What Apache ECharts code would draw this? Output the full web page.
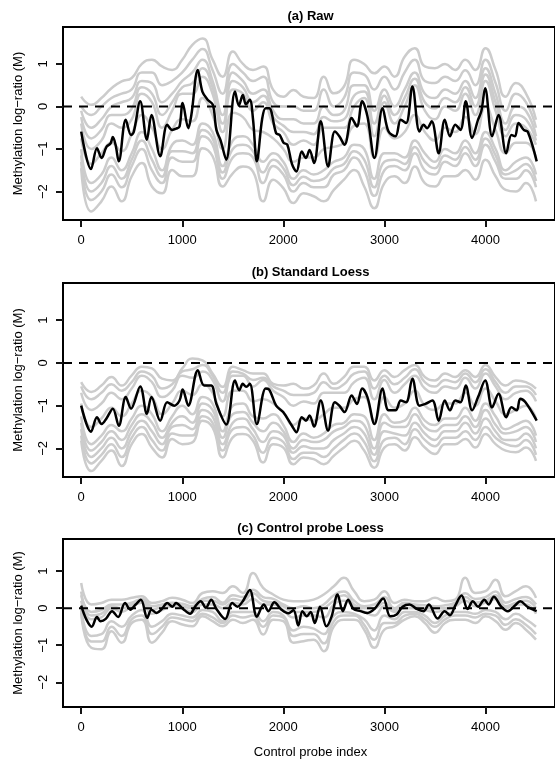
<!DOCTYPE html>
<html>
<head>
<meta charset="utf-8">
<script src="https://cdn.jsdelivr.net/npm/echarts@6/dist/echarts.min.js"></script>
<style>html,body{margin:0;padding:0;background:#fff}#c{width:555px;height:761px}</style>
</head>
<body>
<div id="c"></div>
<script>
// ---------- data ----------
const panelTitles = ['(a) Raw', '(b) Standard Loess', '(c) Control probe Loess'];
const xTicks = [0, 1000, 2000, 3000, 4000];
const yTicks = [-2, -1, 0, 1];
const greyX = [0,100,200,300,400,500,600,700,800,900,1000,1100,1200,1300,1400,1500,1600,1700,1800,1900,2000,2100,2200,2300,2400,2500,2600,2700,2800,2900,3000,3100,3200,3300,3400,3500,3600,3700,3800,3900,4000,4100,4200,4300,4400,4500];

// (a) Raw - grey arrays
const rawGreyUpper = [0.23,0.04,0.2,0.43,0.59,0.67,1.0,1.1,0.94,0.86,1.1,1.45,1.6,1.1,0.7,1.29,1.0,0.86,0.94,0.39,0.23,0.39,0.23,0.2,0.7,0.31,0.47,1.1,1.0,0.78,0.94,0.7,1.17,1.37,0.94,0.9,1.0,0.86,1.1,0.86,1.37,0.86,0.23,0.55,0.31,-0.31];
const rawGrey1 = [0.0,-0.2,0.0,0.2,0.3,0.4,0.8,0.8,0.5,0.6,0.8,1.1,1.35,0.85,0.3,1.0,0.8,0.6,0.7,0.1,0.0,0.0,-0.1,-0.1,0.4,0.0,0.2,0.8,0.75,0.4,0.7,0.4,0.8,1.1,0.6,0.55,0.7,0.6,0.85,0.5,1.1,0.55,-0.1,0.3,0.1,-0.5];
const rawGrey2 = [-0.1,-0.5,-0.3,0.0,0.1,0.2,0.6,0.55,0.1,0.3,0.6,0.8,1.1,0.6,-0.2,0.8,0.6,0.3,0.4,-0.1,-0.3,-0.3,-0.4,-0.4,0.0,-0.2,-0.1,0.5,0.5,-0.1,0.4,0.0,0.4,0.8,0.3,0.2,0.4,0.3,0.6,0.2,0.9,0.3,-0.4,0.0,-0.1,-0.7];
const rawGrey7 = [-0.25,-0.75,-0.55,-0.2,-0.2,-0.05,0.45,0.3,-0.2,0.1,0.45,0.55,0.9,0.45,-0.4,0.6,0.45,0.1,0.25,-0.25,-0.45,-0.6,-0.6,-0.65,-0.25,-0.35,-0.3,0.25,0.35,-0.4,0.25,-0.2,0.2,0.65,0.1,-0.05,0.2,0.1,0.45,0.0,0.75,0.1,-0.55,-0.2,-0.3,-0.8];
const rawGrey3 = [-0.4,-1.0,-0.8,-0.4,-0.5,-0.3,0.3,0.1,-0.5,-0.1,0.3,0.3,0.7,0.3,-0.6,0.4,0.3,-0.1,0.1,-0.4,-0.6,-0.9,-0.8,-0.9,-0.5,-0.5,-0.5,0.0,0.2,-0.7,0.1,-0.4,0.0,0.5,-0.1,-0.3,0.0,-0.1,0.3,-0.2,0.6,-0.1,-0.7,-0.4,-0.5,-0.9];
const rawGrey6 = [-0.75,-1.35,-1.1,-0.85,-1.05,-0.65,-0.2,-0.5,-1.0,-0.55,-0.3,-0.35,0.2,-0.2,-1.0,-0.15,-0.25,-0.55,-0.6,-0.75,-1.0,-1.3,-1.2,-1.2,-1.0,-0.95,-0.85,-0.45,-0.4,-1.2,-0.5,-0.75,-0.6,-0.2,-0.6,-0.8,-0.5,-0.6,-0.25,-0.65,0.0,-0.55,-1.1,-0.85,-0.85,-1.2];
const rawGrey4 = [-1.0,-1.8,-1.6,-1.2,-1.5,-1.1,-0.6,-1.0,-1.5,-0.9,-0.8,-0.9,-0.4,-0.6,-1.4,-0.8,-0.7,-0.9,-1.3,-1.1,-1.3,-1.7,-1.5,-1.6,-1.5,-1.3,-1.2,-0.9,-1.0,-1.7,-1.1,-1.1,-1.2,-0.8,-1.1,-1.3,-1.0,-1.1,-0.8,-1.1,-0.6,-1.0,-1.5,-1.3,-1.2,-1.6];
const rawGrey8 = [-1.15,-2.0,-1.8,-1.4,-1.7,-1.25,-0.8,-1.25,-1.65,-1.05,-1.05,-1.1,-0.55,-0.75,-1.55,-1.0,-0.9,-1.05,-1.55,-1.25,-1.45,-1.85,-1.65,-1.75,-1.7,-1.45,-1.35,-1.05,-1.25,-1.9,-1.3,-1.25,-1.35,-0.95,-1.3,-1.45,-1.15,-1.25,-0.95,-1.25,-0.75,-1.15,-1.6,-1.5,-1.35,-1.75];
const rawGrey5 = [-1.3,-2.2,-2.0,-1.6,-1.9,-1.4,-1.0,-1.5,-1.8,-1.2,-1.3,-1.3,-0.7,-0.9,-1.7,-1.2,-1.1,-1.2,-1.8,-1.4,-1.6,-2.0,-1.8,-1.9,-1.9,-1.6,-1.5,-1.2,-1.5,-2.1,-1.5,-1.4,-1.5,-1.1,-1.5,-1.6,-1.3,-1.4,-1.1,-1.4,-0.9,-1.3,-1.7,-1.7,-1.5,-1.9];
const rawGreyLower = [-1.45,-2.47,-2.23,-1.88,-2.23,-1.64,-1.33,-1.88,-2.04,-1.49,-1.64,-1.64,-0.98,-1.17,-1.88,-1.57,-1.41,-1.53,-2.23,-1.72,-1.92,-2.27,-2.04,-2.11,-2.23,-1.96,-1.72,-1.49,-1.88,-2.39,-1.8,-1.64,-1.8,-1.41,-1.8,-1.88,-1.64,-1.64,-1.49,-1.72,-1.25,-1.64,-1.96,-2.0,-1.8,-2.23];
// (a) Raw - highlighted array
const rawBlackX = [0,97,156,202,250,290,313,340,372,441,493,520,584,650,695,782,851,900,940,973,1004,1060,1090,1154,1199,1251,1303,1338,1380,1435,1522,1560,1599,1630,1668,1700,1738,1790,1825,1860,1929,1964,2002,2040,2085,2130,2182,2224,2259,2304,2370,2443,2509,2554,2606,2676,2728,2780,2832,2902,2982,3041,3110,3162,3215,3277,3347,3388,3423,3468,3537,3597,3649,3701,3753,3805,3868,3927,3960,3997,4066,4129,4205,4257,4292,4327,4379,4420,4507];
const rawBlackY = [-0.59,-1.47,-0.98,-1.21,-0.95,-0.87,-0.72,-0.9,-1.29,-0.31,-0.67,-0.6,0.12,-0.78,-0.2,-1.17,-0.43,-0.55,-0.52,-0.47,0.08,-0.51,-0.2,0.86,0.35,0.16,0.04,-0.55,-0.8,-1.25,0.35,0.02,0.27,0.05,0.16,-0.3,-1.29,-0.3,-0.04,-0.04,-0.63,-0.67,-0.85,-0.9,-1.35,-1.53,-1.06,-1.21,-1.02,-1.33,-0.35,-1.41,-0.59,-0.7,-0.9,-0.27,-0.47,0.12,-0.23,-1.21,-0.04,-0.59,-0.7,-0.31,-0.39,0.47,-0.59,-0.43,-0.51,-0.35,-1.1,-0.31,-0.7,-0.43,-0.55,0.12,-0.74,-0.31,-0.1,0.43,-0.7,-0.2,-1.1,-0.67,-0.7,-0.39,-0.55,-0.6,-1.29];

// (b) Standard Loess - grey arrays
const stdGreyUpper = [-0.45,-0.68,-0.53,-0.33,-0.53,-0.29,-0.09,-0.13,-0.37,-0.41,-0.13,0.1,0.06,-0.25,-0.56,-0.09,-0.17,-0.25,-0.25,-0.49,-0.53,-0.49,-0.6,-0.53,-0.25,-0.49,-0.33,-0.09,-0.09,-0.41,-0.17,-0.33,-0.17,-0.05,-0.33,-0.41,-0.25,-0.33,-0.17,-0.33,-0.05,-0.33,-0.53,-0.41,-0.45,-0.6];
const stdGrey1 = [-0.55,-0.85,-0.7,-0.5,-0.65,-0.45,-0.2,-0.3,-0.6,-0.5,-0.2,-0.15,-0.05,-0.3,-0.7,-0.2,-0.25,-0.4,-0.35,-0.55,-0.65,-0.75,-0.75,-0.7,-0.45,-0.6,-0.5,-0.25,-0.2,-0.6,-0.3,-0.5,-0.35,-0.15,-0.45,-0.55,-0.4,-0.45,-0.25,-0.45,-0.15,-0.45,-0.7,-0.55,-0.55,-0.75];
const stdGrey2 = [-0.7,-1.1,-0.95,-0.7,-0.85,-0.6,-0.3,-0.45,-0.8,-0.65,-0.3,-0.35,-0.2,-0.4,-0.9,-0.3,-0.3,-0.55,-0.4,-0.65,-0.8,-1.0,-0.9,-0.95,-0.7,-0.7,-0.7,-0.45,-0.35,-0.85,-0.4,-0.7,-0.5,-0.3,-0.6,-0.7,-0.55,-0.6,-0.35,-0.6,-0.25,-0.55,-0.85,-0.7,-0.65,-0.9];
const stdGrey6 = [-0.95,-1.5,-1.3,-1.05,-1.25,-0.95,-0.65,-0.8,-1.2,-0.95,-0.65,-0.75,-0.5,-0.7,-1.25,-0.65,-0.65,-0.9,-0.85,-0.95,-1.15,-1.45,-1.3,-1.35,-1.2,-1.05,-1.05,-0.85,-0.8,-1.35,-0.8,-1.05,-0.95,-0.65,-1.0,-1.1,-0.95,-0.95,-0.7,-1.0,-0.6,-0.9,-1.2,-1.1,-1.0,-1.3];
const stdGrey3 = [-1.25,-1.9,-1.7,-1.45,-1.6,-1.3,-1.0,-1.2,-1.6,-1.25,-1.0,-1.2,-0.8,-0.95,-1.6,-1.0,-0.95,-1.25,-1.3,-1.2,-1.45,-1.85,-1.65,-1.75,-1.65,-1.45,-1.4,-1.2,-1.25,-1.8,-1.2,-1.4,-1.35,-1.05,-1.35,-1.45,-1.3,-1.3,-1.05,-1.35,-0.95,-1.25,-1.55,-1.45,-1.35,-1.7];
const stdGrey4 = [-1.4,-2.05,-1.85,-1.6,-1.8,-1.45,-1.2,-1.4,-1.75,-1.4,-1.25,-1.4,-0.95,-1.1,-1.75,-1.2,-1.15,-1.4,-1.6,-1.4,-1.6,-2.0,-1.8,-1.85,-1.8,-1.6,-1.5,-1.35,-1.45,-2.0,-1.4,-1.5,-1.5,-1.2,-1.5,-1.6,-1.45,-1.45,-1.25,-1.5,-1.1,-1.45,-1.65,-1.6,-1.5,-1.85];
const stdGrey5 = [-1.55,-2.2,-2.0,-1.75,-2.0,-1.6,-1.35,-1.6,-1.9,-1.5,-1.45,-1.55,-1.1,-1.25,-1.9,-1.4,-1.3,-1.55,-1.85,-1.6,-1.7,-2.1,-1.95,-2.0,-2.0,-1.8,-1.65,-1.5,-1.65,-2.15,-1.6,-1.65,-1.7,-1.4,-1.65,-1.8,-1.6,-1.6,-1.4,-1.65,-1.3,-1.6,-1.8,-1.8,-1.65,-2.0];
const stdGrey7 = [-1.7,-2.35,-2.15,-1.9,-2.2,-1.75,-1.5,-1.8,-2.05,-1.65,-1.7,-1.7,-1.25,-1.4,-2.05,-1.55,-1.5,-1.7,-2.1,-1.75,-1.85,-2.25,-2.1,-2.1,-2.2,-2.0,-1.8,-1.65,-1.85,-2.3,-1.8,-1.75,-1.9,-1.55,-1.8,-1.95,-1.75,-1.75,-1.6,-1.8,-1.5,-1.75,-1.9,-1.95,-1.8,-2.15];
const stdGreyLower = [-1.82,-2.53,-2.29,-2.05,-2.41,-1.9,-1.66,-1.98,-2.21,-1.78,-1.9,-1.86,-1.35,-1.51,-2.21,-1.74,-1.66,-1.82,-2.33,-1.9,-1.98,-2.37,-2.21,-2.25,-2.37,-2.17,-1.98,-1.82,-2.05,-2.45,-1.98,-1.9,-2.05,-1.74,-1.98,-2.13,-1.9,-1.9,-1.78,-1.98,-1.66,-1.9,-2.05,-2.09,-1.98,-2.29];
// (b) Standard Loess - highlighted array
const stdBlackX = [0,97,156,202,250,313,372,441,493,584,650,695,782,851,920,973,1004,1060,1154,1216,1286,1338,1435,1522,1564,1599,1633,1668,1738,1825,1859,1929,1998,2085,2130,2182,2224,2259,2304,2370,2443,2509,2554,2606,2676,2728,2780,2832,2902,2982,3041,3110,3162,3215,3277,3347,3405,3475,3537,3597,3649,3701,3753,3805,3868,3927,3997,4066,4129,4205,4257,4309,4344,4396,4507];
const stdBlackY = [-1.0,-1.61,-1.27,-1.43,-1.3,-1.07,-1.47,-0.8,-1.07,-0.55,-1.19,-0.8,-1.35,-0.92,-1.0,-0.88,-0.62,-1.0,-0.17,-0.53,-0.53,-0.96,-1.44,-0.41,-0.64,-0.49,-0.56,-0.49,-1.43,-0.6,-0.62,-1.0,-1.15,-1.47,-1.62,-1.27,-1.35,-1.23,-1.49,-0.88,-1.58,-0.92,-1.0,-1.15,-0.76,-0.96,-0.6,-0.8,-1.43,-0.6,-1.11,-1.11,-0.88,-0.92,-0.37,-1.0,-0.96,-0.88,-1.35,-0.88,-1.11,-0.88,-0.92,-0.53,-1.11,-0.8,-0.41,-1.04,-0.72,-1.27,-1.04,-1.11,-0.84,-0.92,-1.35];

// (c) Control probe Loess - grey arrays
const ctlGreyUpper = [0.68,0.1,0.14,0.23,0.23,0.28,0.32,0.14,0.19,0.28,0.23,0.14,0.41,0.46,0.41,0.59,0.41,0.95,0.55,0.37,0.23,0.19,0.19,0.23,0.37,0.59,0.82,0.46,0.19,0.23,0.46,0.14,0.23,0.19,0.19,0.28,0.19,0.23,0.82,0.41,0.46,0.77,0.32,0.46,0.59,0.28];
const ctlGrey1 = [0.35,-0.1,-0.05,0.1,0.1,0.15,0.25,0.05,0.1,0.15,0.12,0.05,0.25,0.3,0.15,0.35,0.3,0.5,0.3,0.25,0.1,0.0,0.05,0.0,0.1,0.35,0.45,0.2,0.05,0.1,0.3,0.0,0.15,0.1,0.08,0.05,0.08,0.15,0.4,0.25,0.3,0.45,0.15,0.25,0.3,0.1];
const ctlGrey5 = [0.45,-0.2,-0.15,0.05,0.0,0.1,0.2,-0.05,0.05,0.1,0.05,0.0,0.2,0.2,0.1,0.25,0.2,0.4,0.2,0.15,0.05,-0.1,-0.1,-0.1,0.0,0.2,0.35,0.1,0.0,0.0,0.15,-0.05,0.1,0.05,0.0,0.0,0.0,0.1,0.3,0.15,0.2,0.35,0.05,0.15,0.2,0.0];
const ctlGrey2 = [0.2,-0.3,-0.25,0.0,-0.1,0.05,0.15,-0.15,-0.05,0.05,0.0,-0.1,0.1,0.1,0.0,0.15,0.1,0.25,0.1,0.1,-0.05,-0.25,-0.2,-0.2,-0.25,0.1,0.2,0.05,-0.1,-0.2,0.05,-0.1,0.0,0.0,-0.05,-0.1,-0.05,0.05,0.2,0.05,0.15,0.25,0.0,0.1,0.1,-0.15];
const ctlGrey3 = [0.0,-0.75,-0.7,-0.35,-0.5,-0.2,-0.05,-0.5,-0.35,-0.15,-0.2,-0.25,-0.05,-0.1,-0.35,-0.1,-0.1,-0.1,-0.35,-0.1,-0.2,-0.6,-0.5,-0.55,-0.7,-0.2,-0.1,-0.15,-0.3,-0.6,-0.2,-0.3,-0.1,-0.1,-0.2,-0.4,-0.2,-0.1,-0.1,-0.15,-0.05,-0.1,-0.3,-0.15,-0.3,-0.5];
const ctlGrey4 = [-0.05,-0.9,-0.9,-0.5,-0.75,-0.3,-0.2,-0.7,-0.5,-0.25,-0.3,-0.35,-0.15,-0.25,-0.4,-0.2,-0.25,-0.2,-0.5,-0.2,-0.25,-0.75,-0.7,-0.7,-0.95,-0.35,-0.2,-0.2,-0.45,-0.85,-0.4,-0.4,-0.2,-0.15,-0.3,-0.5,-0.3,-0.2,-0.2,-0.25,-0.15,-0.2,-0.45,-0.3,-0.45,-0.7];
const ctlGreyLower = [-0.13,-1.07,-1.11,-0.62,-0.93,-0.4,-0.31,-0.93,-0.66,-0.35,-0.44,-0.49,-0.22,-0.35,-0.49,-0.31,-0.4,-0.31,-0.71,-0.31,-0.35,-0.93,-0.89,-0.85,-1.16,-0.49,-0.31,-0.31,-0.58,-1.07,-0.58,-0.49,-0.31,-0.22,-0.4,-0.66,-0.4,-0.31,-0.31,-0.4,-0.22,-0.35,-0.58,-0.4,-0.58,-0.85];
// (c) Control probe Loess - highlighted array
const ctlBlackX = [0,52,104,156,191,243,306,365,434,486,539,591,653,695,747,799,851,903,938,1008,1077,1129,1182,1234,1286,1338,1425,1494,1546,1599,1668,1738,1807,1852,1911,1981,2050,2100,2148,2189,2231,2270,2311,2363,2426,2478,2537,2589,2641,2693,2763,2832,2902,2989,3058,3121,3180,3249,3319,3388,3440,3527,3597,3649,3701,3764,3823,3875,3927,3989,4031,4083,4153,4222,4292,4344,4414,4507];
const ctlBlackY = [0.07,-0.31,-0.5,-0.24,-0.35,-0.29,-0.08,-0.24,0.14,-0.04,0.1,0.23,-0.26,-0.04,-0.13,-0.02,0.14,0.04,0.14,-0.02,-0.15,0.05,0.19,0.01,0.23,-0.02,-0.29,0.14,0.04,0.19,0.49,-0.23,0.1,-0.08,0.16,-0.04,-0.14,-0.05,-0.47,-0.08,-0.22,-0.1,-0.4,0.04,-0.49,-0.22,0.37,-0.08,0.23,-0.02,-0.08,-0.13,-0.02,0.26,-0.22,-0.17,0.04,0.1,-0.02,-0.08,0.1,-0.28,-0.08,-0.19,0.07,0.34,-0.02,0.19,0.04,0.23,0.1,0.31,0.05,-0.08,0.07,0.19,0.04,-0.08];

const refLineX = [-180, 4688];
const refLineY = [0, 0];

// ---------- chart ----------
const FONT = 'Liberation Sans, Arial, Helvetica, sans-serif';
const X_MIN = -180, X_MAX = 4688, Y_MIN = -2.668, Y_MAX = 1.868;
const grids = [
  {left: 63, width: 495, top: 27, height: 193},
  {left: 63, width: 495, top: 283, height: 194},
  {left: 63, width: 495, top: 539, height: 168}
];
const greySets = [
  [rawGreyUpper, rawGrey1, rawGrey2, rawGrey7, rawGrey3, rawGrey6, rawGrey4, rawGrey8, rawGrey5, rawGreyLower],
  [stdGreyUpper, stdGrey1, stdGrey2, stdGrey6, stdGrey3, stdGrey4, stdGrey5, stdGrey7, stdGreyLower],
  [ctlGreyUpper, ctlGrey1, ctlGrey5, ctlGrey2, ctlGrey3, ctlGrey4, ctlGreyLower]
];
const blackSets = [[rawBlackX, rawBlackY], [stdBlackX, stdBlackY], [ctlBlackX, ctlBlackY]];
const TICK_STYLE = {color: 'rgb(20,20,20)', width: 2};

const xAxes = [], yAxes = [], series = [], gridOpts = [], graphics = [];
grids.forEach((g, i) => {
  gridOpts.push(Object.assign({show: true, borderColor: '#000', borderWidth: 2}, g));
  xAxes.push({
    type: 'value', gridIndex: i, min: X_MIN, max: X_MAX,
    axisLine: {show: false, onZero: false}, splitLine: {show: false},
    axisTick: {show: true, length: 7, customValues: xTicks, lineStyle: TICK_STYLE},
    axisLabel: {margin: 14, customValues: xTicks, color: '#000', fontSize: 13, fontFamily: FONT,
      formatter: v => String(v)}
  });
  yAxes.push({
    type: 'value', gridIndex: i, min: Y_MIN, max: Y_MAX,
    axisLine: {show: false, onZero: false}, splitLine: {show: false},
    axisTick: {show: true, length: 7, customValues: yTicks, lineStyle: TICK_STYLE},
    axisLabel: {margin: 13, rotate: 90, customValues: yTicks, color: '#000', fontSize: 13, fontFamily: FONT,
      formatter: v => (v < 0 ? '\u2212' + Math.abs(v) : String(v))}
  });
  greySets[i].forEach(ys => {
    series.push({
      type: 'line', xAxisIndex: i, yAxisIndex: i, showSymbol: false, smooth: 0.5, silent: true, z: 1,
      lineStyle: {color: '#cccccc', width: 2.5},
      data: greyX.map((x, k) => [x, ys[k]])
    });
  });
  series.push({
    type: 'line', xAxisIndex: i, yAxisIndex: i, showSymbol: false, silent: true, z: 2,
    lineStyle: {color: '#000', width: 2, type: [9, 7]},
    data: refLineX.map((x, k) => [x, refLineY[k]])
  });
  const [bx, by] = blackSets[i];
  series.push({
    type: 'line', xAxisIndex: i, yAxisIndex: i, showSymbol: false, smooth: 0.35, silent: true, z: 3,
    lineStyle: {color: '#000', width: 2.5},
    data: bx.map((x, k) => [x, by[k]])
  });
  graphics.push({
    type: 'text', x: 310.5, y: g.top - 11,
    style: {text: panelTitles[i], font: 'bold 13px ' + FONT, fill: '#000', textAlign: 'center', textVerticalAlign: 'middle'}
  });
  graphics.push({
    type: 'text', x: 18, y: g.top + g.height / 2, rotation: Math.PI / 2,
    style: {text: 'Methylation log\u2212ratio (M)', font: '13px ' + FONT, fill: '#000', textAlign: 'center', textVerticalAlign: 'middle'}
  });
});
graphics.push({
  type: 'text', x: 310.5, y: 752,
  style: {text: 'Control probe index', font: '13px ' + FONT, fill: '#000', textAlign: 'center', textVerticalAlign: 'middle'}
});

const chart = echarts.init(document.getElementById('c'), null, {renderer: 'canvas'});
chart.setOption({
  animation: false,
  grid: gridOpts,
  xAxis: xAxes,
  yAxis: yAxes,
  series: series,
  graphic: graphics
});
</script>
</body>
</html>
